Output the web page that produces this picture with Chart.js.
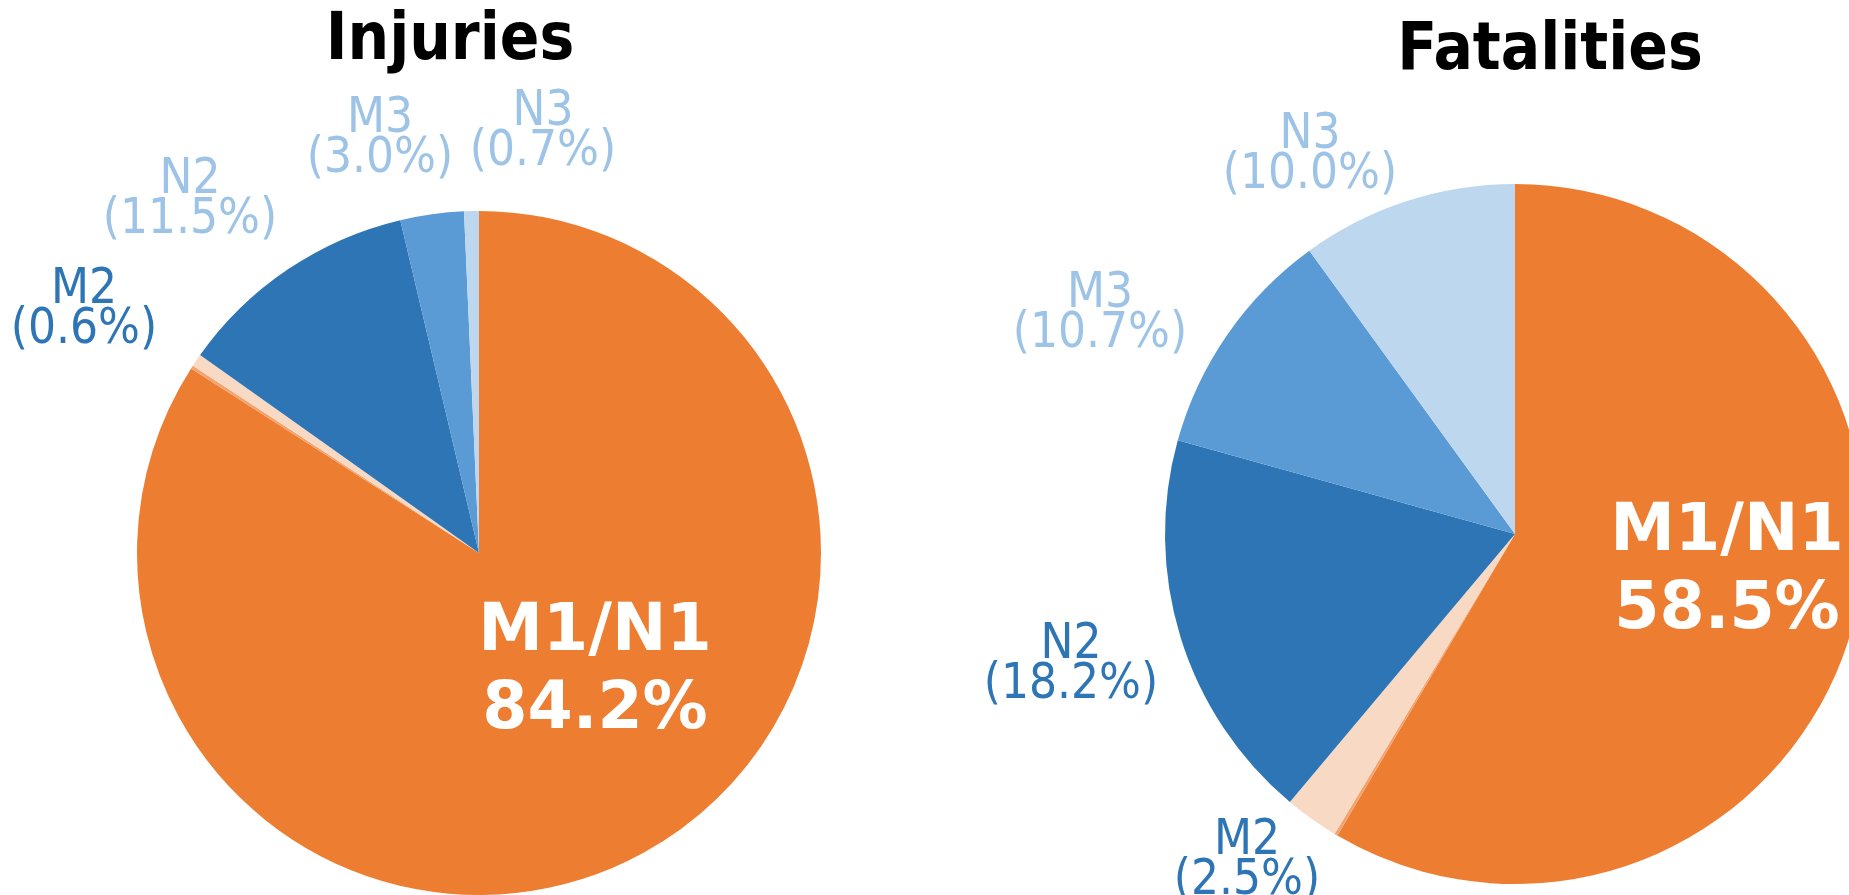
<!DOCTYPE html>
<html>
<head>
<meta charset="utf-8">
<script src="https://cdn.jsdelivr.net/npm/chart.js@4.4.1/dist/chart.umd.min.js"></script>
<style>
  html, body { margin: 0; padding: 0; background: #fff; overflow: hidden; width: 1849px; height: 895px; }
  .box { position: absolute; top: 0; }
</style>
</head>
<body>
<div class="box" style="left:0;width:930px;height:900px"><canvas id="injuries"></canvas></div>
<div class="box" style="left:930px;width:950px;height:900px"><canvas id="fatalities"></canvas></div>
<script>
// slices, clockwise from 12 o'clock ('' = thin unlabeled sliver)
const categories = ['M1/N1', '', 'M2', 'N2', 'M3', 'N3'];
const injuries = [84.2, 0.15, 0.6, 11.5, 3.0, 0.7];
const fatalities = [58.5, 0.15, 2.5, 18.2, 10.7, 10.0];

const sliceColors = ['#ED7D31', '#F3A46E', '#F8D9C4', '#2E75B6', '#5B9BD5', '#BDD7EE'];
const DARK = '#2E75B6', LIGHT = '#9DC3E6';

// label anchors relative to pie centre (px), and text colours
const injuryLabelPos = [[116, 119], null, [-395, -243], [-289, -353], [-99, -414], [64, -421]];
const injuryLabelColor = ['#fff', null, DARK, LIGHT, LIGHT, LIGHT];
const fatalLabelPos = [[212, 38], null, [-268, 327], [-444, 131], [-415, -220], [-205, -379]];
const fatalLabelColor = ['#fff', null, DARK, DARK, LIGHT, LIGHT];

const labelPlugin = {
  id: 'sliceLabels',
  afterDraw(chart, args, o) {
    const ctx = chart.ctx;
    const arc = chart.getDatasetMeta(0).data[0];
    const cx = arc.x, cy = arc.y;
    const vals = chart.data.datasets[0].data;
    ctx.save();
    ctx.textAlign = 'center';
    ctx.textBaseline = 'alphabetic';
    ctx.fillStyle = '#000';
    ctx.font = 'bold 65px "DejaVu Sans Condensed"';
    ctx.fillText(o.title, o.titleX, o.titleY);

    ctx.textBaseline = 'middle';
    chart.data.labels.forEach((name, i) => {
      const p = o.pos[i];
      if (!name || !p) return;
      const x = cx + p[0], y = cy + p[1];
      ctx.fillStyle = o.colors[i];
      if (i === 0) {
        ctx.font = 'bold 65px "DejaVu Sans"';
        ctx.fillText(name, x, y - 39);
        ctx.fillText(vals[i].toFixed(1) + '%', x, y + 39);
      } else {
        ctx.font = '49px "DejaVu Sans Condensed"';
        ctx.fillText(name, x, y - 20);
        ctx.fillText('(' + vals[i].toFixed(1) + '%)', x, y + 20);
      }
    });
    ctx.restore();
  }
};

function makePie(id, values, padding, opts) {
  return new Chart(document.getElementById(id), {
    type: 'pie',
    data: {
      labels: categories,
      datasets: [{ data: values, backgroundColor: sliceColors, borderWidth: 0 }]
    },
    options: {
      responsive: true,
      maintainAspectRatio: false,
      animation: false,
      layout: { padding: padding },
      plugins: {
        legend: { display: false },
        tooltip: { enabled: false },
        sliceLabels: opts
      }
    },
    plugins: [labelPlugin]
  });
}

makePie('injuries', injuries,
  { left: 137, top: 211, right: 109, bottom: 5 },
  { title: 'Injuries', titleX: 450, titleY: 59, pos: injuryLabelPos, colors: injuryLabelColor });

makePie('fatalities', fatalities,
  { left: 235, top: 184, right: 15, bottom: 16 },
  { title: 'Fatalities', titleX: 620, titleY: 69, pos: fatalLabelPos, colors: fatalLabelColor });
</script>
</body>
</html>
